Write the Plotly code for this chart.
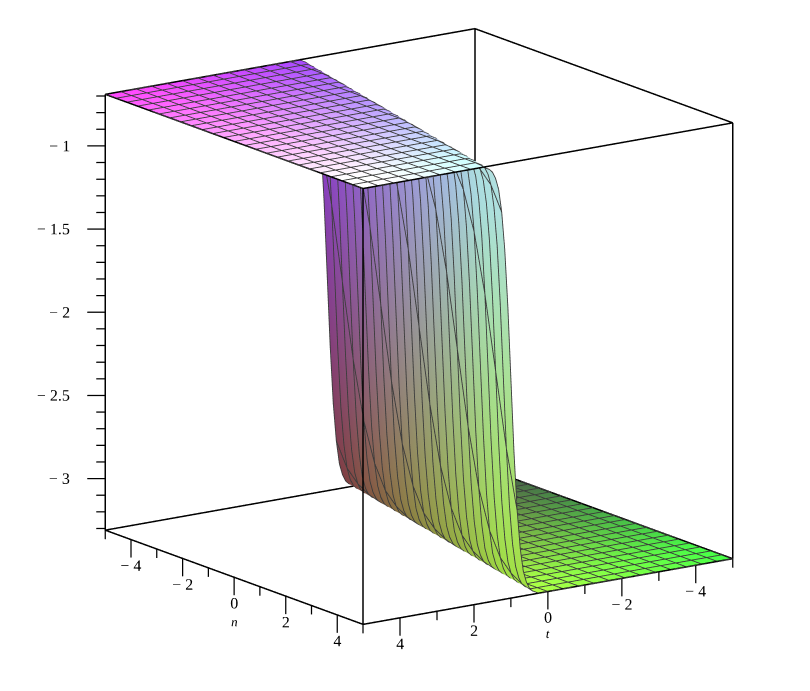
import numpy as np
import plotly.graph_objects as go

# t columns: coarse on the two flat plates, fine across the wall
t_values = [-5, -4.583, -4.167, -3.75, -3.333, -2.917,
            -2.5, -2.417, -2.333, -2.25, -2.167, -2.083, -2, -1.917, -1.833, -1.75, -1.667, -1.583, -1.5, -1.417,
            -1.333, -1.25, -1.167, -1.083, -1, -0.917, -0.833, -0.75, -0.667, -0.583, -0.5, -0.417, -0.333, -0.25,
            -0.167, -0.083, 0, 0.083, 0.167, 0.25, 0.333, 0.417, 0.5, 0.583, 0.667, 0.75, 0.833, 0.917, 1, 1.083,
            1.167, 1.25, 1.333, 1.417, 1.5, 1.583, 1.667, 1.75, 1.833, 1.917, 2, 2.083, 2.167, 2.25, 2.333, 2.417, 2.5,
            2.917, 3.333, 3.75, 4.167, 4.583, 5]
n_values = [-5, -4.583, -4.167, -3.75, -3.333, -2.917, -2.5, -2.083, -1.667, -1.25, -0.833, -0.417, 0,
            0.417, 0.833, 1.25, 1.667, 2.083, 2.5, 2.917, 3.333, 3.75, 4.167, 4.583, 5]
L = -3.31
H = -0.69
# height across the wall
wall_profile = [-3.30, -3.29, -3.27, -3.23, -3.16, -3.02, -2.79, -2.44, -2.00,
                -1.56, -1.21, -0.98, -0.84, -0.77, -0.73, -0.71, -0.70]
# first t column of the wall in each n row
wall_start = [16, 17, 18, 19, 20, 21, 22, 23, 24, 25, 26, 27, 28, 29, 30, 31, 32, 33, 34, 35, 36, 37, 38, 39, 40]
# t columns that carry a mesh line
mesh_columns = [0, 1, 2, 3, 4, 5, 6, 11, 16, 21, 26, 31, 36, 41, 46, 51, 56, 61, 66, 67, 68, 69, 70, 71, 72]

t_ticks = [-5, -4, -3, -2, -1, 0, 1, 2, 3, 4, 5]
n_ticks = [-5, -4, -3, -2, -1, 0, 1, 2, 3, 4, 5]
t_labeled = [-4, -2, 0, 2, 4]
n_labeled = [-4, -2, 0, 2, 4]
z_ticks = [-3.3, -3.2, -3.1, -3, -2.9, -2.8, -2.7, -2.6, -2.5, -2.4, -2.3, -2.2, -2.1, -2, -1.9, -1.8,
           -1.7, -1.6, -1.5, -1.4, -1.3, -1.2, -1.1, -1, -0.9, -0.8, -0.7]
z_labeled = [-3, -2.5, -2, -1.5, -1]

GROW = 1.3           # scene is larger than the box, so ticks and labels are not clipped
ASPECT = 1.696
T_LO, T_HI, N_LO, N_HI = -5, 5, -5, 5
Z_MID = (L + H) / 2
Z_HALF = (H - L) / 2
EYE = np.array([0.553, 0.793, 0.2547])
CENTER = np.array([0.0256, 0.0063, -0.0755])
PX_Z = 167.0         # pixels per z unit, used for tick lengths
LEFT_T, LEFT_N = 0.435 / 24, -0.306 / 24   # data step per pixel towards the screen's left

T = np.array(t_values, float)
N = np.array(n_values, float)
Z = np.array([[L] * s + wall_profile + [H] * (len(t_values) - s - len(wall_profile)) for s in wall_start], float)
TT, NN = np.meshgrid(T, N)
rows, cols = Z.shape
LIFT = 0.28
GAIN = 0.8
WALL_SHADE = 0.88
shade = np.where((Z > L) & (Z < H), WALL_SHADE, 1.0)
R = np.minimum(1, LIFT + GAIN * (TT + 5) / 10) * shade
G = np.minimum(1, LIFT + GAIN * (NN + 5) / 10) * shade
B = np.minimum(1, LIFT + GAIN * (Z - L) / (H - L)) * shade
vc = [f"rgb({int(r*255)},{int(g*255)},{int(b*255)})" for r, g, b in zip(R.ravel(), G.ravel(), B.ravel())]
idx = np.arange(rows * cols).reshape(rows, cols)
a = idx[:-1, :-1].ravel(); b = idx[:-1, 1:].ravel(); c = idx[1:, 1:].ravel(); d = idx[1:, :-1].ravel()

# small shift towards the viewer so lines lying on the surface stay visible
K = 0.012
DT, DN, DZ = K * EYE[0] * 5 * GROW, K * EYE[1] * 5 * GROW, K * EYE[2] * Z_HALF * GROW

fig = go.Figure()
fig.add_trace(go.Mesh3d(
    x=TT.ravel(), y=NN.ravel(), z=Z.ravel(),
    i=np.r_[a, a], j=np.r_[b, c], k=np.r_[c, d],
    vertexcolor=vc, flatshading=False,
    lighting=dict(ambient=1, diffuse=0, specular=0, fresnel=0),
    hoverinfo="skip", showscale=False))

def add_lines(segs, color, width):
    xs, ys, zs = [], [], []
    for seg in segs:
        for p in seg:
            xs.append(p[0] + DT); ys.append(p[1] + DN); zs.append(p[2] + DZ)
        xs.append(None); ys.append(None); zs.append(None)
    fig.add_trace(go.Scatter3d(x=xs, y=ys, z=zs, mode="lines", line=dict(color=color, width=width),
                               hoverinfo="skip", showlegend=False))

mesh = [list(zip(TT[r], NN[r], Z[r])) for r in range(rows)] + \
       [list(zip(TT[:, q], NN[:, q], Z[:, q])) for q in mesh_columns]
add_lines(mesh, "rgb(60,60,60)", 1.8)

# frame
box = []
for zv in (L, H):
    box += [[(T_LO, N_LO, zv), (T_HI, N_LO, zv), (T_HI, N_HI, zv), (T_LO, N_HI, zv), (T_LO, N_LO, zv)]]
for tv in (T_LO, T_HI):
    for nv in (N_LO, N_HI):
        box.append([(tv, nv, L), (tv, nv, H)])
add_lines(box, "black", 3)

# ticks
MAJOR = 18; MINOR = 9
ticks = []
for v in n_ticks:
    ln = MAJOR if v in n_labeled else MINOR
    ticks.append([(T_HI, v, L), (T_HI, v, L - ln / PX_Z)])
for v in t_ticks:
    ln = MAJOR if v in t_labeled else MINOR
    ticks.append([(v, N_HI, L), (v, N_HI, L - ln / PX_Z)])
for v in z_ticks:
    ln = MAJOR if v in z_labeled else MINOR
    ticks.append([(T_HI, N_LO, v), (T_HI + LEFT_T * ln, N_LO + LEFT_N * ln, v)])
add_lines(ticks, "black", 2.5)

def fmt(v):
    return "\u2212 " + f"{abs(v):g}" if v < 0 else f"{v:g}"

def add_text(xs, ys, zs, texts, pos, size=16, style="normal"):
    fig.add_trace(go.Scatter3d(x=xs, y=ys, z=zs, text=texts, mode="text", textposition=pos,
                               textfont=dict(family="Liberation Serif", size=size, color="black", style=style),
                               hoverinfo="skip", showlegend=False))

LABEL_DZ = 26 / PX_Z
add_text([T_HI] * len(n_labeled), n_labeled, [L - LABEL_DZ] * len(n_labeled), [fmt(v) for v in n_labeled], "middle center")
add_text(t_labeled, [N_HI] * len(t_labeled), [L - LABEL_DZ] * len(t_labeled), [fmt(v) for v in t_labeled], "middle center")
add_text([T_HI + LEFT_T * 20] * len(z_labeled), [N_LO + LEFT_N * 20] * len(z_labeled), z_labeled,
         [fmt(v) for v in z_labeled], "middle left")
add_text([T_HI], [0], [L - 46 / PX_Z], ["n"], "middle center", size=13, style="italic")
add_text([0], [N_HI], [L - 43 / PX_Z], ["t"], "middle center", size=13, style="italic")

hidden = dict(visible=False, showspikes=False, autorange=False)
eye = CENTER + EYE * 2
fig.update_layout(
    width=810, height=691, margin=dict(l=0, r=0, t=0, b=0), paper_bgcolor="white", showlegend=False,
    scene=dict(
        domain=dict(x=[0, 1], y=[0, 1]),
        xaxis=dict(hidden, range=[-5 * GROW, 5 * GROW], title=dict(text="t")),
        yaxis=dict(hidden, range=[-5 * GROW, 5 * GROW], title=dict(text="n")),
        zaxis=dict(hidden, range=[Z_MID - Z_HALF * GROW, Z_MID + Z_HALF * GROW]),
        aspectmode="manual", aspectratio=dict(x=ASPECT, y=ASPECT, z=ASPECT),
        camera=dict(projection=dict(type="orthographic"), up=dict(x=0, y=0, z=1),
                    center=dict(x=float(CENTER[0]), y=float(CENTER[1]), z=float(CENTER[2])),
                    eye=dict(x=float(eye[0]), y=float(eye[1]), z=float(eye[2]))),
    ))
fig.write_html("out.html")
